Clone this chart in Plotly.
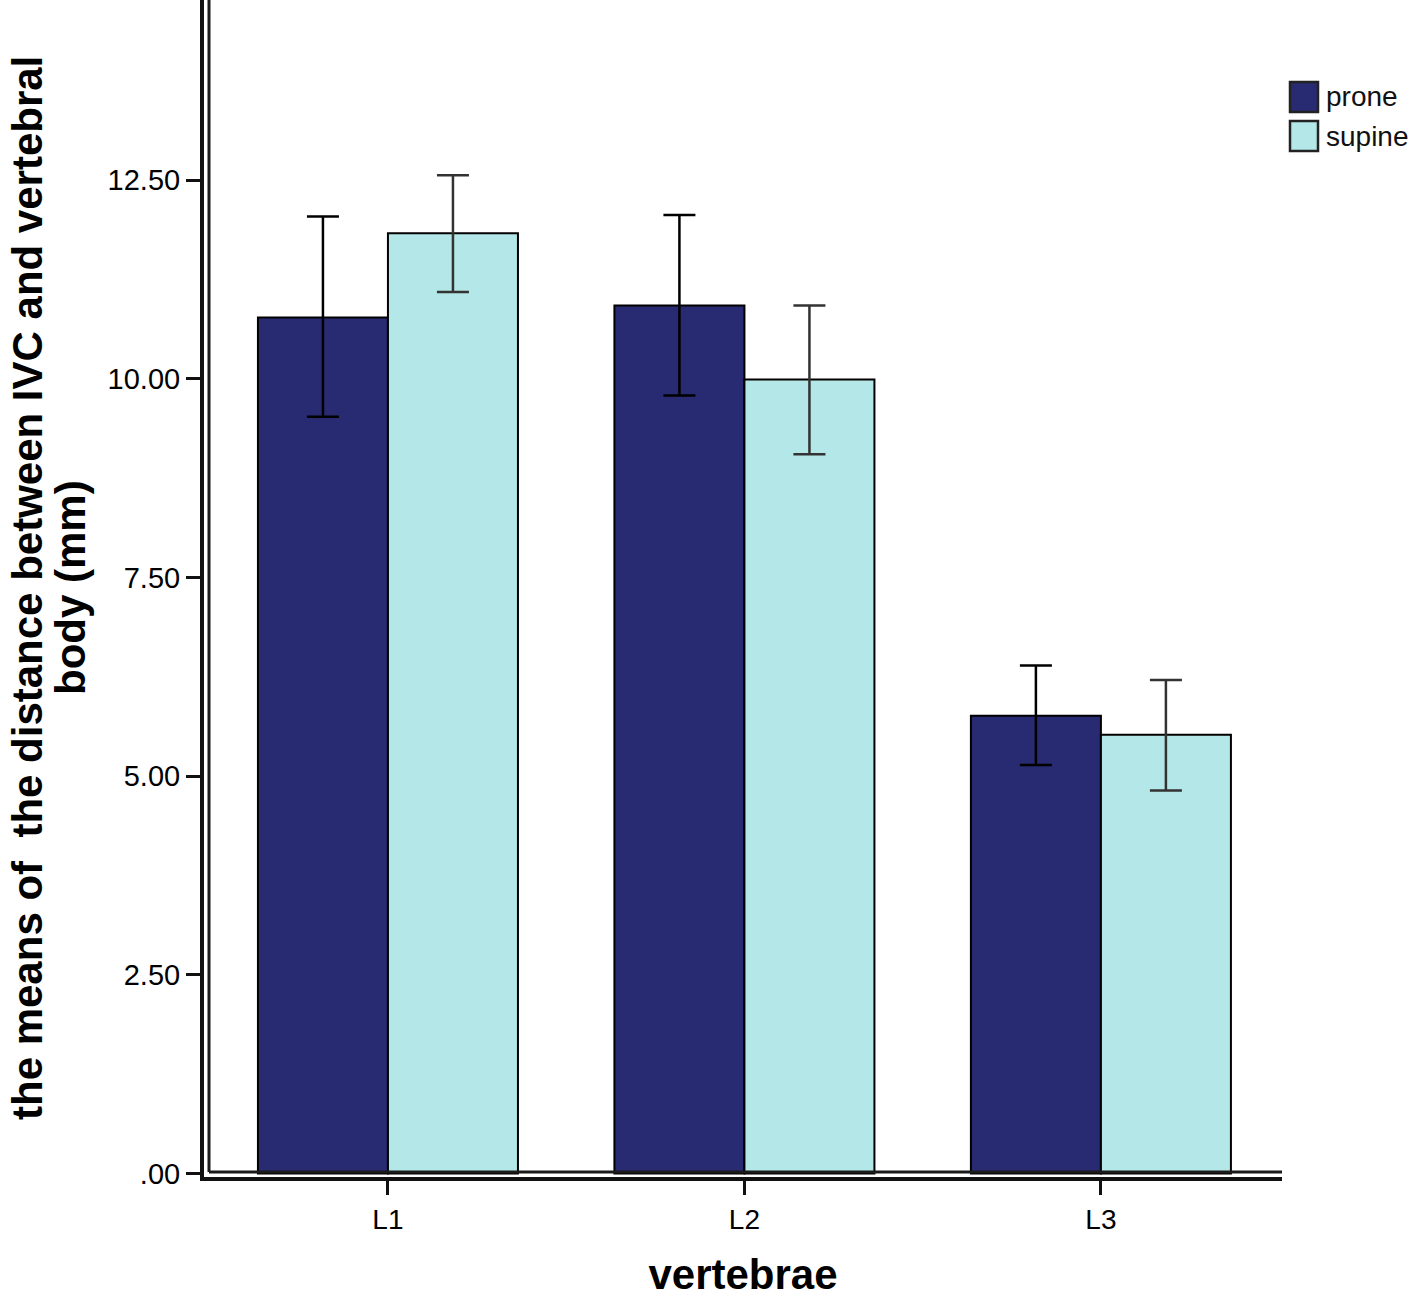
import plotly.graph_objects as go

# ---- data ----
categories = ["L1", "L2", "L3"]
series_names = ["prone", "supine"]
prone_means = [10.77, 10.92, 5.76]
prone_err_plus = [1.27, 1.14, 0.63]
prone_err_minus = [1.25, 1.13, 0.62]
supine_means = [11.83, 9.99, 5.52]
supine_err_plus = [0.73, 0.93, 0.69]
supine_err_minus = [0.74, 0.94, 0.70]
ytick_vals = [0, 2.5, 5.0, 7.5, 10.0, 12.5]
ytick_text = [".00", "2.50", "5.00", "7.50", "10.00", "12.50"]
x_title = "vertebrae"
y_title_lines = ["the means of\u00a0 the distance between IVC and vertebral", "body (mm)"]
colors = ["#282a72", "#b4e7e7"]

# ---- geometry (pixels) ----
W, H = 1418, 1298
ML, MR, MT, MB = 204, 136, 0, 121
PW = W - ML - MR
PH = H - MT - MB

def px_x(px):
    return (px - ML) / PW

def px_y(py):
    return (H - MB - py) / PH

FONT = "Liberation Sans, Arial, sans-serif"

fig = go.Figure()
fig.add_trace(go.Bar(
    x=categories, y=prone_means, name=series_names[0],
    marker=dict(color=colors[0], line=dict(color="black", width=2)),
    error_y=dict(type="data", symmetric=False, array=prone_err_plus,
                 arrayminus=prone_err_minus, color="black", thickness=2.5, width=16),
    showlegend=False,
))
fig.add_trace(go.Bar(
    x=categories, y=supine_means, name=series_names[1],
    marker=dict(color=colors[1], line=dict(color="black", width=2)),
    error_y=dict(type="data", symmetric=False, array=supine_err_plus,
                 arrayminus=supine_err_minus, color="#333333", thickness=2.5, width=16),
    showlegend=False,
))

shapes = []
# inner frame lines (double-line axes)
shapes.append(dict(type="line", xref="paper", yref="paper",
                   x0=px_x(209), x1=px_x(209), y0=px_y(1172), y1=1.0,
                   line=dict(color="#1a1a1a", width=3), layer="above"))
shapes.append(dict(type="line", xref="paper", yref="paper",
                   x0=px_x(209), x1=1.0, y0=px_y(1172), y1=px_y(1172),
                   line=dict(color="#1a1a1a", width=3), layer="above"))

annotations = []
# legend
leg_y = [97, 136]
for name, col, cy in zip(series_names, colors, leg_y):
    shapes.append(dict(type="rect", xref="paper", yref="paper",
                       x0=px_x(1290), x1=px_x(1318), y0=px_y(cy + 15), y1=px_y(cy - 15),
                       fillcolor=col, line=dict(color="#222222", width=2.5)))
    annotations.append(dict(xref="paper", yref="paper", x=px_x(1324), y=px_y(cy),
                            xanchor="left", yanchor="middle", text=name, showarrow=False,
                            font=dict(family=FONT, size=28, color="#111111")))

# y-axis title (two rotated lines)
for line, cx in zip(y_title_lines, [27, 70]):
    annotations.append(dict(xref="paper", yref="paper", x=px_x(cx), y=px_y(588),
                            xanchor="center", yanchor="middle", textangle=-90,
                            text="<b>" + line + "</b>", showarrow=False,
                            font=dict(family=FONT, size=42, color="black")))

per_unit = (1173.5 - 180) / 12.5
y0 = -(H - MB - 1173.5) / per_unit
y1 = 12.5 + 180 / per_unit

fig.update_layout(
    width=W, height=H,
    margin=dict(l=ML, r=MR, t=MT, b=MB, autoexpand=False),
    paper_bgcolor="white", plot_bgcolor="white",
    barmode="group", bargap=0.2706, bargroupgap=0,
    font=dict(family=FONT, color="black"),
    shapes=shapes, annotations=annotations,
    showlegend=False,
)
fig.update_xaxes(
    type="category", range=[-0.516, 2.508], automargin=False,
    showline=True, linecolor="#111111", linewidth=4,
    ticks="outside", ticklen=14, tickwidth=3, tickcolor="#111111",
    tickfont=dict(family=FONT, size=28, color="black"),
    showgrid=False, zeroline=False,
    title=dict(text="<b>" + x_title + "</b>", font=dict(family=FONT, size=42, color="black"), standoff=41),
)
fig.update_yaxes(
    range=[y0, y1], automargin=False,
    tickvals=ytick_vals, ticktext=ytick_text,
    showline=True, linecolor="#111111", linewidth=4,
    ticks="outside", ticklen=14, tickwidth=3, tickcolor="#111111",
    tickfont=dict(family=FONT, size=29, color="black"),
    showgrid=False, zeroline=False,
)

fig.write_html("out.html", config={"displayModeBar": False},
               post_script="document.body.style.margin='0';")
